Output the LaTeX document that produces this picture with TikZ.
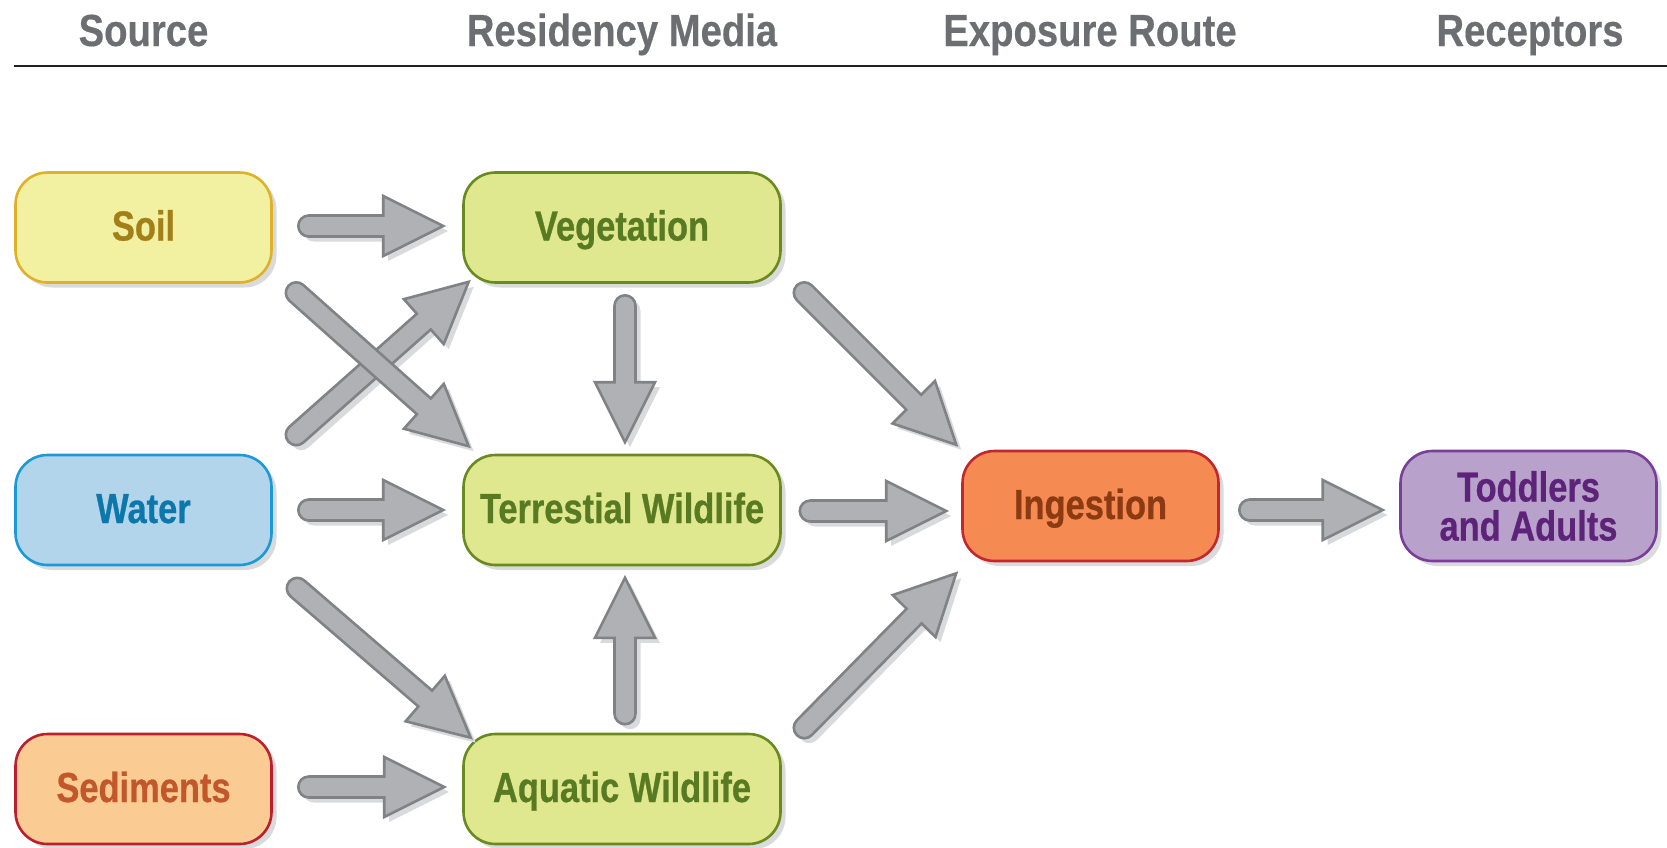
\documentclass[tikz,border=0pt]{standalone}
\usepackage{fontspec}
\setmainfont{Liberation Sans}
\newfontfamily\nodefont{Liberation Sans}[FakeStretch=0.82,FakeBold=0.6]
\newfontfamily\headfont{Liberation Sans}[FakeStretch=0.85,FakeBold=0.4]
\usetikzlibrary{calc,shadows}

\definecolor{hdtext}{HTML}{6D6E71}
\definecolor{hdline}{HTML}{231F20}
\definecolor{boxshadow}{HTML}{D9DADC}
\definecolor{arrfill}{HTML}{B0B1B5}
\definecolor{arrdraw}{HTML}{808285}
\definecolor{soilfill}{HTML}{F2F0A1}
\definecolor{soildraw}{HTML}{DFB02A}
\definecolor{soiltext}{HTML}{A27F18}
\definecolor{waterfill}{HTML}{B3D5EB}
\definecolor{waterdraw}{HTML}{1A9AD6}
\definecolor{watertext}{HTML}{0B77AA}
\definecolor{sedfill}{HTML}{FACC94}
\definecolor{seddraw}{HTML}{BE1E2D}
\definecolor{sedtext}{HTML}{C2572B}
\definecolor{greenfill}{HTML}{DFE78F}
\definecolor{greendraw}{HTML}{6A8A1F}
\definecolor{greentext}{HTML}{587A22}
\definecolor{ingfill}{HTML}{F58A52}
\definecolor{ingdraw}{HTML}{C4262E}
\definecolor{ingtext}{HTML}{8B3A12}
\definecolor{todfill}{HTML}{B8A2CC}
\definecolor{toddraw}{HTML}{7A3E9A}
\definecolor{todtext}{HTML}{5D2379}

\tikzset{
  box/.style={draw, line width=2.6pt, rounded corners=32pt, minimum height=110pt,
    inner sep=0pt, align=center,
    font=\nodefont\bfseries\fontsize{42}{39}\selectfont,
    drop shadow={shadow xshift=5pt, shadow yshift=-5pt, fill=boxshadow, opacity=1}},
  oneline/.style={text height=30pt, text depth=4pt},
  sbox/.style={box, minimum width=256pt},
  mbox/.style={box, minimum width=317pt},
  header/.style={anchor=base, text=hdtext, font=\headfont\bfseries\fontsize{45}{50}\selectfont},
  arrshape/.style={fill=arrfill, draw=arrdraw, line width=2.6pt, line join=miter},
  arrshadow/.style={fill=boxshadow}
}

\newcommand\blockarrow[2]{%
  \path let \p1=(#1), \p2=(#2) in \pgfextra{%
    \pgfmathsetmacro\tmpang{atan2((\y2)-(\y1),(\x2)-(\x1))}%
    \pgfmathsetmacro\tmplen{veclen((\x2)-(\x1),(\y2)-(\y1))}%
    \xdef\baang{\tmpang}\xdef\balen{\tmplen}\xdef\bax{\x1}\xdef\bay{\y1}};
  \begin{scope}[shift={({\bax+5pt},{\bay-5pt})}, rotate=\baang]
    \fill[arrshadow] (0,10.5pt) -- ({\balen pt-60pt},10.5pt) -- ({\balen pt-60pt},30pt)
      -- ({\balen pt},0pt) -- ({\balen pt-60pt},-30pt) -- ({\balen pt-60pt},-10.5pt)
      -- (0,-10.5pt) arc[start angle=270, end angle=90, radius=10.5pt] -- cycle;
  \end{scope}
  \begin{scope}[shift={(\bax,\bay)}, rotate=\baang]
    \draw[arrshape] (0,10.5pt) -- ({\balen pt-60pt},10.5pt) -- ({\balen pt-60pt},30pt)
      -- ({\balen pt},0pt) -- ({\balen pt-60pt},-30pt) -- ({\balen pt-60pt},-10.5pt)
      -- (0,-10.5pt) arc[start angle=270, end angle=90, radius=10.5pt] -- cycle;
  \end{scope}}

\begin{document}
\begin{tikzpicture}[x=1pt,y=1pt]
\useasboundingbox (0,0) rectangle (1667,-847);

% headers
\node[header] (hsrc) at (143.5,-46) {Source};
\node[header] (hres) at (622,-46) {Residency Media};
\node[header] (hexp) at (1090,-46) {Exposure Route};
\node[header] (hrec) at (1530,-46) {Receptors};
\coordinate (lineL) at (14,-66);
\coordinate (lineR) at (1667,-66);
\draw[hdline, line width=2.8pt] (lineL) -- (lineR);

% boxes
\node[sbox, oneline, fill=soilfill, draw=soildraw, text=soiltext] (soil) at (143.5,-227.5) {Soil};
\node[sbox, oneline, fill=waterfill, draw=waterdraw, text=watertext] (water) at (143.5,-510) {Water};
\node[sbox, oneline, fill=sedfill, draw=seddraw, text=sedtext] (sed) at (143.5,-789) {Sediments};
\node[mbox, oneline, fill=greenfill, draw=greendraw, text=greentext] (veg) at (622,-227.5) {Vegetation};
\node[mbox, oneline, fill=greenfill, draw=greendraw, text=greentext] (terr) at (622,-510) {Terrestial Wildlife};
\node[mbox, oneline, fill=greenfill, draw=greendraw, text=greentext] (aq) at (622,-789) {Aquatic Wildlife};
\node[sbox, oneline, fill=ingfill, draw=ingdraw, text=ingtext] (ing) at (1090.5,-506) {Ingestion};
\node[sbox, fill=todfill, draw=toddraw, text=todtext] (tod) at (1528.5,-506) {Toddlers\\and Adults};

% arrows
\blockarrow{$(soil.east)+(36,1.5)$}{$(veg.west)+(-19,1.5)$}
\blockarrow{$(water.east)+(36,0)$}{$(terr.west)+(-19,0)$}
\blockarrow{$(sed.east)+(36,2)$}{$(aq.west)+(-18,2)$}
\blockarrow{$(water.north east)+(23.5,19)$}{$(veg.south west)+(6.5,2)$}
\blockarrow{$(soil.south east)+(23.5,-9)$}{$(terr.north west)+(6.5,7.5)$}
\blockarrow{$(water.south east)+(24.5,-22)$}{$(aq.north west)+(8.5,-5)$}
\blockarrow{$(veg.south)+(3,-22)$}{$(terr.north)+(3,11.5)$}
\blockarrow{$(aq.north)+(3,19)$}{$(terr.south)+(3,-11.5)$}
\blockarrow{$(veg.south east)+(22.5,-9)$}{$(ing.north west)+(-5,5)$}
\blockarrow{$(terr.east)+(28.5,-1)$}{$(terr.east -| ing.west)+(-15,-1)$}
\blockarrow{$(aq.north east)+(22.5,5)$}{$(ing.south west)+(-5,-11)$}
\blockarrow{$(ing.east)+(30,-4)$}{$(tod.west)+(-16.5,-4)$}
\end{tikzpicture}
\end{document}
